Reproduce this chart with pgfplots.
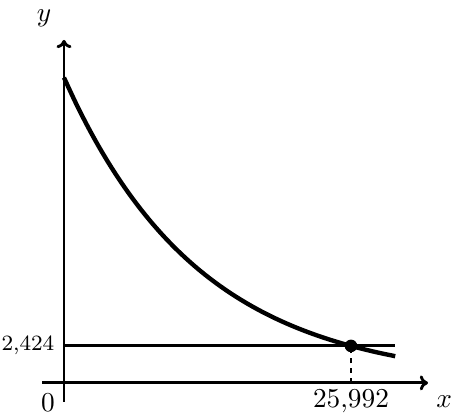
\documentclass[border=0pt]{standalone}
\usepackage{pgfplots}
\pgfplotsset{compat=1.18}
\usetikzlibrary{arrows.meta}
\begin{document}
\begin{tikzpicture}
\begin{axis}[
    scale only axis,
    width=141.4pt, height=132.6pt,
    axis lines=middle,
    axis line style={line width=1.05pt, -{To[length=3pt,width=5.5pt]}},
    xmin=-1990, xmax=32970,
    ymin=-1245, ymax=22470,
    scaled ticks=false,
    xtick={25992}, xticklabels={$25{,}992$},
    ytick={2424}, yticklabels={$2{,}424$},
    xticklabel style={yshift=1pt},
    yticklabel style={font=\footnotesize},
    major tick length=0pt,
    tick style={draw=none},
    xlabel={$x$}, ylabel={$y$},
    x label style={at={(axis cs:32970,0)}, anchor=center, xshift=5.9pt, yshift=-7pt},
    y label style={at={(axis cs:0,22470)}, anchor=center, rotate=0, xshift=-7.3pt, yshift=8pt},
    clip=false,
]
% decaying curve
\addplot[line width=1.6pt, smooth] coordinates {
 (0,20000) (1000,18440) (2000,17002) (3000,15676) (4000,14454) (5000,13327)
 (6000,12288) (7000,11330) (8000,10446) (9000,9631) (10000,8880) (11000,8188)
 (12000,7549) (13000,6960) (14000,6418) (15000,5917) (16000,5456) (17000,5030)
 (18000,4638) (19000,4276) (20000,3943) (21000,3635) (22000,3352) (23000,3090)
 (24000,2849) (25000,2627) (26000,2422) (27000,2234) (28000,2059) (29000,1899)
 (30000,1751)};
% level line
\addplot[line width=1.1pt] coordinates {(0,2424) (30000,2424)};
% drop line
\addplot[line width=0.4pt, dash pattern=on 1.8pt off 1.8pt] coordinates {(25992,0) (25992,2424)};
% intersection point
\addplot[only marks, mark=*, mark size=2.1pt] coordinates {(25992,2424)};
\node at (axis cs:0,0) [xshift=-5.9pt, yshift=-7.2pt] {$0$};
% page frame in data units
\coordinate (frameSW) at (axis cs:-5797,-2358);
\coordinate (frameNE) at (axis cs:35503,25087);
\end{axis}
\pgfresetboundingbox
\useasboundingbox (frameSW) rectangle (frameNE);
\end{tikzpicture}
\end{document}
